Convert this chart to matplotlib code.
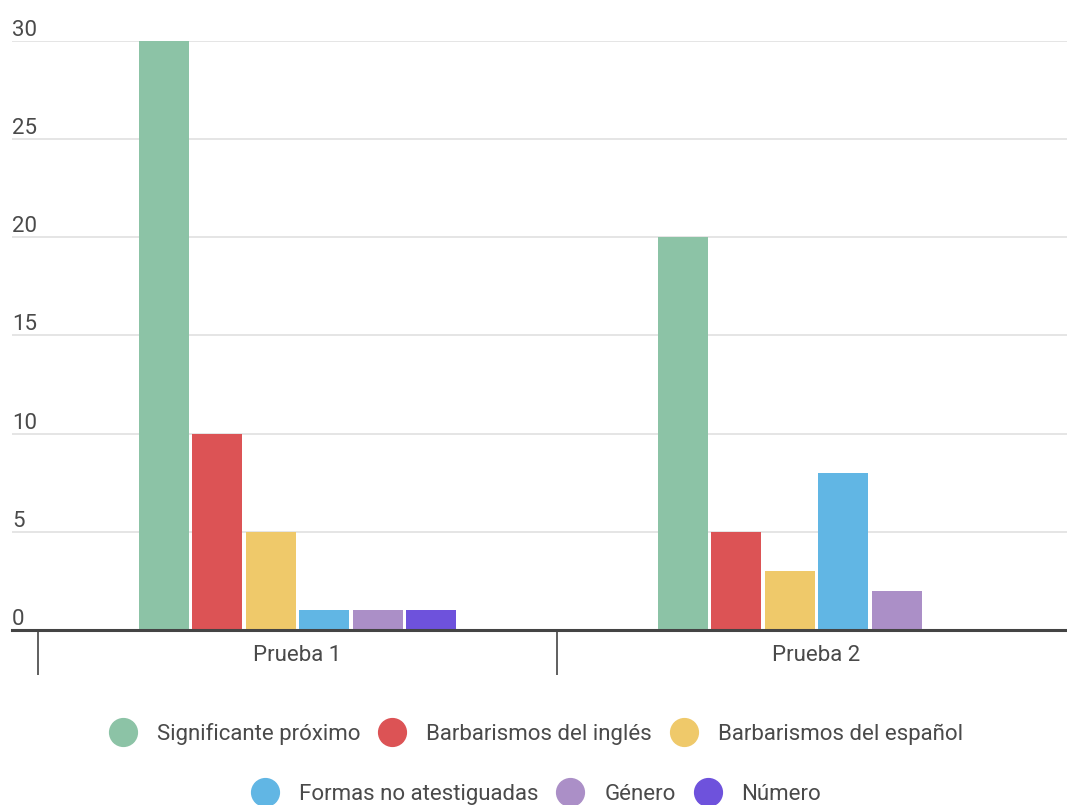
import matplotlib
matplotlib.use("Agg")
import matplotlib.pyplot as plt
from matplotlib.lines import Line2D
import numpy as np

categories = ["Prueba 1", "Prueba 2"]
series_names = ["Significante próximo", "Barbarismos del inglés", "Barbarismos del español",
                "Formas no atestiguadas", "Género", "Número"]
significante = [30, 20]
barb_ingles = [10, 5]
barb_espanol = [5, 3]
formas = [1, 8]
genero = [1, 2]
numero = [1, 0]
series_values = [significante, barb_ingles, barb_espanol, formas, genero, numero]
colors = ["#8cc3a6", "#dc5355", "#efc96a", "#61b6e4", "#ab8fc7", "#6e52dc"]
y_ticks = [0, 5, 10, 15, 20, 25, 30]

plt.rcParams['font.family'] = ['Roboto', 'DejaVu Sans']
text_color = "#4a4a4a"
fs = 16

W, H = 1067, 805
fig = plt.figure(figsize=(W / 100, H / 100), dpi=100)
left_px, right_px, top_px, base_px = 12, 1067, 41, 630
ax = fig.add_axes([left_px / W, (H - base_px) / H, (right_px - left_px) / W, (base_px - top_px) / H])

x = np.arange(len(categories))
slot = 0.1028
bw = 0.0963
n = len(series_values)
handles = []
for i, (vals, c, name) in enumerate(zip(series_values, colors, series_names)):
    ax.bar(x + (i - (n - 1) / 2) * slot, vals, width=bw, color=c, zorder=3, linewidth=0)
    handles.append(Line2D([], [], linestyle='none', marker='o', markersize=20,
                          markerfacecolor=c, markeredgecolor=c, label=name))

# x axis
ax.set_xticks([-0.5, 0.5, 1.5])
ax.set_xticklabels([])
ax.set_xticks(x, minor=True)
ax.set_xticklabels(categories, minor=True)
ax.tick_params(axis='x', which='major', length=32.5, width=1.2, color="#444444", direction='out')
ax.tick_params(axis='x', which='minor', length=0, pad=11, labelsize=fs, labelcolor=text_color)

# y axis
ax.set_yticks(y_ticks)
ax.yaxis.grid(True, color="#e0e0e0", linewidth=1.2, zorder=0)
ax.tick_params(axis='y', length=0, pad=0, labelsize=fs, labelcolor=text_color)
for lab in ax.get_yticklabels():
    lab.set_horizontalalignment('left')
    lab.set_verticalalignment('bottom')

ax.set_ylim(0, 30)
ax.set_xlim(-0.5 - 26 / 519, -0.5 + 1029 / 519)

for s in ['top', 'right', 'left']:
    ax.spines[s].set_visible(False)
ax.spines['bottom'].set_color("#444444")
ax.spines['bottom'].set_linewidth(2.2)
ax.spines['bottom'].set_zorder(4)

leg_kw = dict(loc='center', ncol=3, frameon=False, fontsize=fs, handlelength=1.26,
              handletextpad=0.9, columnspacing=0.81, borderpad=0, labelcolor=text_color)
leg1 = fig.legend(handles=handles[:3], bbox_to_anchor=(536 / W, 1 - 734 / H), **leg_kw)
leg2 = fig.legend(handles=handles[3:], bbox_to_anchor=(536 / W, 1 - 794 / H), **leg_kw)

fig.savefig("out.png", dpi=100)
